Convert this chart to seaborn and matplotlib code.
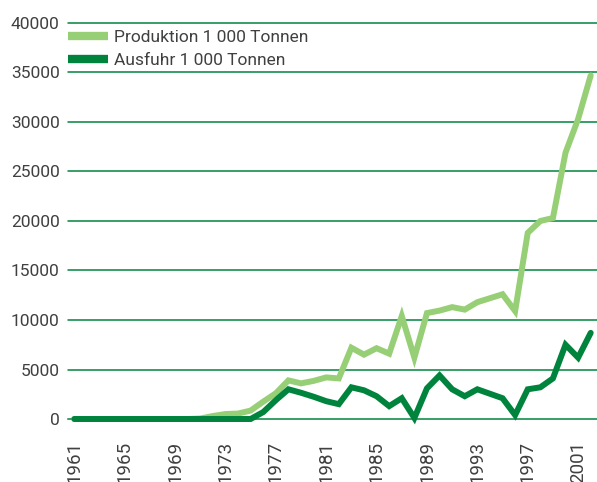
import numpy as np
import pandas as pd
import seaborn as sns
import matplotlib.pyplot as plt
from matplotlib.ticker import FixedLocator

years = list(range(1961, 2003))

produktion = [0, 0, 0, 0, 0, 0, 0, 0, 0, 0,
              50, 300, 500, 550, 850, 1750, 2600, 3900, 3600, 3850,
              4200, 4100, 7200, 6500, 7150, 6600, 10400, 6200, 10700, 10950,
              11300, 11050, 11800, 12200, 12600, 10900, 18800, 20000, 20300, 26900,
              30300, 34700]

ausfuhr = [0, 0, 0, 0, 0, 0, 0, 0, 0, 0,
           0, 0, 0, 0, 0, 700, 1900, 3000, 2650, 2250,
           1800, 1500, 3200, 2900, 2300, 1300, 2100, 100, 3100, 4400,
           3000, 2300, 3000, 2550, 2100, 400, 3000, 3200, 4100, 7500,
           6200, 8700]

series_names = ['Produktion 1 000 Tonnen', 'Ausfuhr 1 000 Tonnen']
colors = ['#97cf76', '#00843d']
label_years = list(range(1961, 2002, 4))


def main():
    df = pd.DataFrame({'Jahr': years * 2,
                       'Wert': produktion + ausfuhr,
                       'Reihe': [series_names[0]] * len(years) + [series_names[1]] * len(years)})

    sns.set_style('white')
    plt.rcParams['font.family'] = ['Roboto', 'DejaVu Sans']
    text_color = '#404040'
    fs = 12.5

    fig = plt.figure(figsize=(5.97, 4.82), dpi=100)
    ax = fig.add_axes([0.1139, 0.1307, 0.8861, 0.8216])

    for y in range(5000, 40001, 5000):
        ax.axhline(y, color='#00843d', lw=1.1, zorder=1)

    sns.lineplot(data=df, x='Jahr', y='Wert', hue='Reihe', palette=colors,
                 linewidth=4.3, ax=ax, legend=True, zorder=3)
    for line in ax.lines:
        line.set_clip_on(False)
        line.set_solid_joinstyle('miter')

    ax.set_xlim(1960.5, 2002.5)
    ax.set_ylim(0, 40000)
    ax.set_yticks(range(0, 40001, 5000))
    ax.set_yticklabels([str(v) for v in range(0, 40001, 5000)], fontsize=fs, color=text_color)
    ax.set_xticks(label_years)
    ax.set_xticklabels([str(y) for y in label_years], rotation=90, fontsize=13.5, color=text_color)
    ax.xaxis.set_minor_locator(FixedLocator(np.arange(1960.5, 2003, 1.0)))
    ax.tick_params(axis='x', which='major', length=0, pad=16)
    ax.tick_params(axis='x', which='minor', length=6, width=1.3, color='#444444', direction='out')
    ax.tick_params(axis='y', length=0, pad=6)
    ax.set_xlabel('')
    ax.set_ylabel('')

    for side in ['top', 'right', 'left']:
        ax.spines[side].set_visible(False)
    ax.spines['bottom'].set_color('#00843d')
    ax.spines['bottom'].set_linewidth(1.1)

    leg = ax.legend(loc='upper left', bbox_to_anchor=(0.0, 0.983), frameon=False,
                    prop={'size': fs}, handlelength=2.3,
                    handletextpad=0.35, labelspacing=0.45, borderaxespad=0.0,
                    borderpad=0.0)
    for h in leg.get_lines():
        h.set_linewidth(6)
        h.set_solid_capstyle('butt')
    for t in leg.get_texts():
        t.set_color(text_color)

    fig.savefig('out.png', dpi=100)


if __name__ == '__main__':
    main()
